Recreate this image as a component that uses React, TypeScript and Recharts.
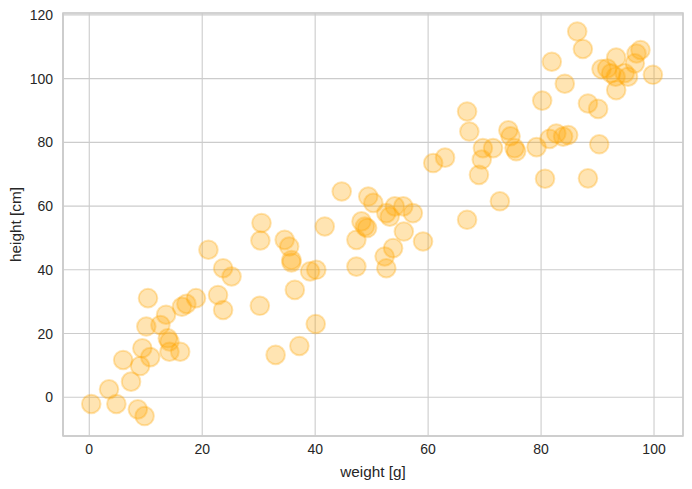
import React from "react";
import {
  ScatterChart,
  Scatter,
  XAxis,
  YAxis,
  CartesianGrid,
  ReferenceArea,
  Label,
} from "recharts";

const weights: number[] = [
  0.35, 3.5, 4.8, 6.0, 7.4, 8.6, 9.8, 9.0, 9.4, 10.8,
  10.4, 10.1, 12.6, 13.6, 13.9, 14.2, 14.2, 16.1, 16.4, 17.2,
  18.9, 21.1, 22.8, 23.7, 23.7, 25.2, 30.5, 30.3, 30.2, 33.0,
  34.6, 35.4, 35.8, 35.8, 36.4, 37.2, 39.1, 40.2, 40.1, 41.7,
  44.7, 47.3, 47.3, 48.2, 48.8, 49.2, 49.4, 50.3, 52.6, 52.6,
  52.3, 53.2, 54.1, 53.8, 55.7, 55.6, 57.3, 59.1, 60.9, 63.0,
  66.9, 67.3, 66.9, 69.0, 69.5, 69.7, 71.5, 72.7, 74.2, 74.6,
  75.3, 75.6, 79.2, 80.2, 80.7, 81.9, 81.5, 82.7, 83.9, 84.2,
  84.8, 86.4, 87.4, 88.3, 88.3, 90.1, 90.3, 90.7, 91.7, 93.3,
  93.2, 93.3, 94.8, 95.4, 96.6, 97.6, 96.9, 99.8, 92.4,
];

const heights: number[] = [
  -2.1, 2.5, -2.1, 11.7, 4.9, -3.8, -5.9, 9.8, 15.4, 12.6,
  31.1, 22.2, 22.7, 25.9, 18.5, 17.5, 14.3, 14.3, 28.4, 29.3,
  31.1, 46.3, 32.1, 40.5, 27.4, 37.9, 54.7, 49.2, 28.7, 13.3,
  49.4, 47.3, 43.1, 42.3, 33.7, 16.1, 39.5, 40.0, 23.0, 53.6,
  64.6, 41.0, 49.4, 55.2, 53.6, 53.1, 63.0, 61.0, 57.8, 40.5,
  44.2, 56.7, 59.9, 46.8, 52.0, 59.9, 57.8, 48.9, 73.5, 75.2,
  89.7, 83.4, 55.7, 69.8, 74.6, 78.2, 78.2, 61.5, 83.8, 81.9,
  78.2, 77.2, 78.5, 93.1, 68.6, 105.3, 81.1, 82.8, 81.8, 98.4,
  82.3, 114.8, 109.3, 68.7, 92.2, 90.5, 79.4, 103.0, 103.2, 96.4,
  100.6, 106.6, 101.7, 100.6, 104.8, 109.0, 107.9, 101.2, 101.7,
];

const xTicks: number[] = [0, 20, 40, 60, 80, 100];
const yTicks: number[] = [0, 20, 40, 60, 80, 100, 120];
const xDomain: [number, number] = [-4.65, 105.13];
const yDomain: [number, number] = [-12.16, 120.6];
const xLabel = "weight [g]";
const yLabel = "height [cm]";

const data = weights.map((w, i) => ({ x: w, y: heights[i] }));

const FONT = "'Liberation Sans', Arial, sans-serif";
const TEXT_COLOR = "#262626";
const GRID_COLOR = "#cccccc";

const Dot = (props: any) => {
  const { cx, cy } = props;
  if (cx == null || cy == null) return null;
  return (
    <circle
      cx={cx}
      cy={cy}
      r={9.3}
      fill="#FFA500"
      fillOpacity={0.3}
      stroke="#FFA500"
      strokeOpacity={0.3}
      strokeWidth={2}
    />
  );
};

export default function App() {
  return (
    <div style={{ position: "absolute", left: 0, top: 0, width: 692, height: 489, background: "#fff" }}>
      <ScatterChart
        width={692}
        height={489}
        margin={{ top: 13, right: 9, bottom: 0, left: 0 }}
        style={{ fontFamily: FONT }}
      >
        <CartesianGrid stroke={GRID_COLOR} strokeWidth={1.1} />
        <XAxis
          type="number"
          dataKey="x"
          domain={xDomain}
          ticks={xTicks}
          allowDataOverflow
          height={53}
          tickLine={false}
          tickSize={6}
          tickMargin={2}
          axisLine={{ stroke: GRID_COLOR, strokeWidth: 1.6 }}
          tick={{ fill: TEXT_COLOR, fontSize: 14, fontFamily: FONT }}
        >
          <Label
            value={xLabel}
            position="insideBottom"
            offset={12.5}
            style={{ fill: TEXT_COLOR, fontSize: 15.3, fontFamily: FONT }}
          />
        </XAxis>
        <YAxis
          type="number"
          dataKey="y"
          domain={yDomain}
          ticks={yTicks}
          allowDataOverflow
          width={63}
          tickLine={false}
          tickSize={6}
          tickMargin={4}
          axisLine={{ stroke: GRID_COLOR, strokeWidth: 1.6 }}
          tick={{ fill: TEXT_COLOR, fontSize: 14, fontFamily: FONT }}
        >
          <Label
            content={(p: any) => {
              const vb = p.viewBox || {};
              const cy = (vb.y ?? 13) + (vb.height ?? 423) / 2;
              const tx = 21;
              return (
                <text
                  x={tx}
                  y={cy}
                  transform={`rotate(-90, ${tx}, ${cy})`}
                  textAnchor="middle"
                  fill={TEXT_COLOR}
                  fontSize={15.3}
                  fontFamily={FONT}
                >
                  {yLabel}
                </text>
              );
            }}
          />
        </YAxis>
        <ReferenceArea
          x1={xDomain[0]}
          x2={xDomain[1]}
          y1={yDomain[0]}
          y2={yDomain[1]}
          fill="none"
          fillOpacity={0}
          stroke={GRID_COLOR}
          strokeWidth={1.6}
          ifOverflow="visible"
        />
        <Scatter data={data} shape={Dot} isAnimationActive={false} />
      </ScatterChart>
    </div>
  );
}
